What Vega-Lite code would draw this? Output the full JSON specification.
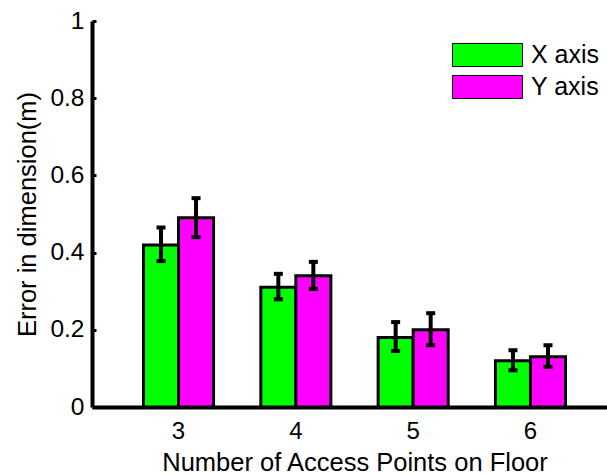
{
  "$schema": "https://vega.github.io/schema/vega-lite/v6.json",
  "autosize": {"type": "none"},
  "padding": {"left": 92, "top": 21, "right": 0, "bottom": 67},
  "width": 525,
  "height": 386,
  "config": {
    "view": {"stroke": null},
    "font": "Liberation Sans",
    "axis": {
      "domainColor": "black",
      "domainWidth": 4,
      "labelColor": "black",
      "titleColor": "black",
      "labelFont": "Liberation Sans",
      "titleFont": "Liberation Sans",
      "titleFontWeight": "normal",
      "grid": false
    },
    "legend": {"labelFont": "Liberation Sans", "labelColor": "black"}
  },
  "data": {
    "values": [
      {"aps": "3", "axis": "X axis", "error": 0.42, "lo": 0.378, "hi": 0.465},
      {"aps": "3", "axis": "Y axis", "error": 0.49, "lo": 0.44, "hi": 0.541},
      {"aps": "4", "axis": "X axis", "error": 0.31, "lo": 0.279, "hi": 0.345},
      {"aps": "4", "axis": "Y axis", "error": 0.34, "lo": 0.306, "hi": 0.376},
      {"aps": "5", "axis": "X axis", "error": 0.18, "lo": 0.145, "hi": 0.22},
      {"aps": "5", "axis": "Y axis", "error": 0.2, "lo": 0.16, "hi": 0.243},
      {"aps": "6", "axis": "X axis", "error": 0.12, "lo": 0.095, "hi": 0.147},
      {"aps": "6", "axis": "Y axis", "error": 0.13, "lo": 0.104, "hi": 0.16}
    ]
  },
  "encoding": {
    "x": {
      "field": "aps",
      "type": "ordinal",
      "scale": {"paddingInner": 0.403, "paddingOuter": 0.439},
      "axis": {
        "title": "Number of Access Points on Floor",
        "labelAngle": 0,
        "labelFontSize": 24,
        "titleFontSize": 25.5,
        "ticks": false,
        "labelPadding": 12,
        "titlePadding": 7
      }
    },
    "xOffset": {"field": "axis", "type": "nominal", "scale": {"paddingInner": 0, "paddingOuter": 0}}
  },
  "layer": [
    {
      "mark": {"type": "bar", "stroke": "black", "strokeWidth": 3, "opacity": 1},
      "encoding": {
        "y": {
          "field": "error",
          "type": "quantitative",
          "scale": {"domain": [0, 1], "nice": false},
          "axis": {
            "title": "Error in dimension(m)",
            "values": [0, 0.2, 0.4, 0.6, 0.8, 1],
            "format": "~g",
            "labelFontSize": 24.5,
            "titleFontSize": 25.5,
            "tickColor": "black",
            "tickWidth": 3,
            "tickSize": -4,
            "labelPadding": 12,
            "titlePadding": 9
          }
        },
        "fill": {
          "field": "axis",
          "type": "nominal",
          "scale": {"domain": ["X axis", "Y axis"], "range": ["#00ff00", "#ff00ff"]},
          "legend": {
            "title": null,
            "orient": "none",
            "legendX": 360,
            "legendY": 21,
            "symbolType": "M-1,-0.33L1,-0.33L1,0.33L-1,0.33Z",
            "symbolSize": 4900,
            "symbolStrokeColor": "black",
            "symbolStrokeWidth": 1,
            "symbolOpacity": 1,
            "clipHeight": 26,
            "labelFontSize": 25,
            "labelOffset": 8,
            "rowPadding": 6
          }
        }
      }
    },
    {
      "mark": {"type": "rule", "color": "black", "strokeWidth": 4},
      "encoding": {
        "y": {"field": "lo", "type": "quantitative"},
        "y2": {"field": "hi"}
      }
    },
    {
      "mark": {"type": "tick", "color": "black", "orient": "horizontal", "size": 9, "thickness": 4, "opacity": 1},
      "encoding": {"y": {"field": "lo", "type": "quantitative"}}
    },
    {
      "mark": {"type": "tick", "color": "black", "orient": "horizontal", "size": 9, "thickness": 4, "opacity": 1},
      "encoding": {"y": {"field": "hi", "type": "quantitative"}}
    }
  ]
}
